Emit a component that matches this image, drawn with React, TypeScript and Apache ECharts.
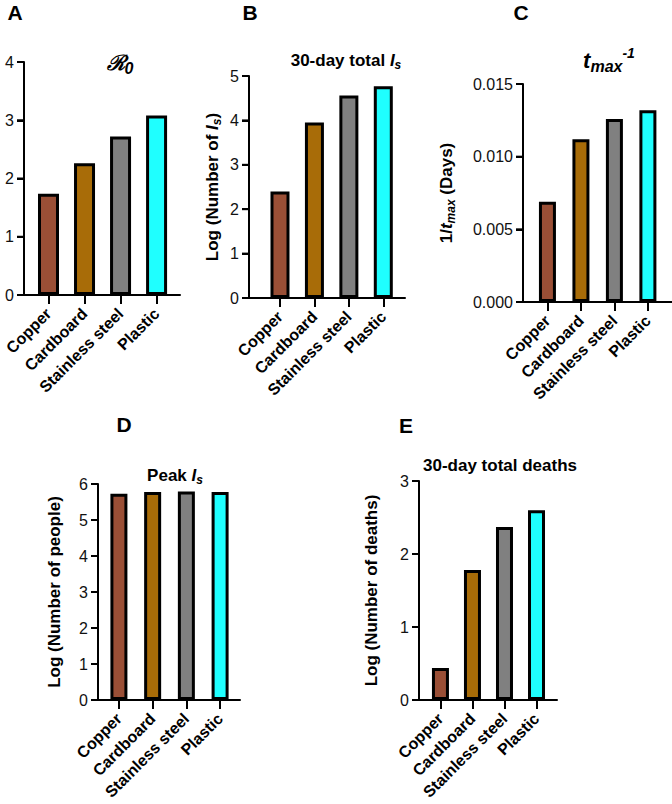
import React, { useEffect, useRef } from "react";
import * as echarts from "echarts";

const categories = ["Copper", "Cardboard", "Stainless steel", "Plastic"];
const barColors = ["#9A4F36", "#A86C08", "#808080", "#1FFFFF"];

const r0Values = [1.74, 2.26, 2.72, 3.08];
const totalIsValues = [2.4, 3.95, 4.56, 4.77];
const invTmaxValues = [0.0069, 0.0112, 0.0126, 0.0132];
const peakIsValues = [5.73, 5.78, 5.79, 5.78];
const totalDeathsValues = [0.44, 1.78, 2.37, 2.6];

const r0TickValues = [0, 1, 2, 3, 4];
const totalIsTickValues = [0, 1, 2, 3, 4, 5];
const invTmaxTickValues = [0, 0.005, 0.01, 0.015];
const peakIsTickValues = [0, 1, 2, 3, 4, 5, 6];
const totalDeathsTickValues = [0, 1, 2, 3];

const FONT = "Liberation Sans, Arial, Helvetica, sans-serif";

const richBase = {
  i: { fontStyle: "italic", fontWeight: "bold", fontSize: 17, lineHeight: 20, fontFamily: FONT, color: "#000" },
  sub: { fontStyle: "italic", fontWeight: "bold", fontSize: 12, lineHeight: 12, padding: [10, 0, 0, 0], fontFamily: FONT, color: "#000" },
};

export default function App() {
  const ref = useRef<HTMLDivElement>(null);
  useEffect(() => {
    if (!ref.current) return;
    const chart = echarts.init(ref.current, undefined, { renderer: "svg" });

    const panels = [
      { values: r0Values, ticks: r0TickValues, digits: 0, grid: [24, 62, 156, 233], xr: [-0.68, 3.65], barW: 21, name: "", nameGap: 0 },
      { values: totalIsValues, ticks: totalIsTickValues, digits: 0, grid: [249, 76, 156, 222], xr: [-0.9, 3.63], barW: 19, name: "Log (Number of {i|I}{sub|s})", nameGap: 27 },
      { values: invTmaxValues, ticks: invTmaxTickValues, digits: 3, grid: [523, 84, 149, 218], xr: [-0.73, 3.72], barW: 17, name: "1/{i|t}{sub|max} (Days)", nameGap: 67 },
      { values: peakIsValues, ticks: peakIsTickValues, digits: 0, grid: [98, 484, 142, 216], xr: [-0.62, 3.59], barW: 17, name: "Log (Number of people)", nameGap: 34 },
      { values: totalDeathsValues, ticks: totalDeathsTickValues, digits: 0, grid: [419, 481, 138, 219], xr: [-0.67, 3.64], barW: 17, name: "Log (Number of deaths)", nameGap: 38 },
    ];

    const tickIdx = categories.map((_, k) => k);

    const option: any = {
      animation: false,
      backgroundColor: "#fff",
      grid: panels.map((p) => ({ left: p.grid[0], top: p.grid[1], width: p.grid[2], height: p.grid[3], containLabel: false })),
      xAxis: panels.map((p, i) => ({
        gridIndex: i,
        type: "value",
        min: p.xr[0],
        max: p.xr[1],
        splitLine: { show: false },
        axisLine: { show: true, onZero: false, lineStyle: { color: "#000", width: 2 } },
        axisTick: { show: true, inside: false, customValues: tickIdx, length: 9, lineStyle: { color: "#000", width: 2 } },
        axisLabel: {
          customValues: tickIdx,
          rotate: 45,
          margin: 16,
          fontSize: 16,
          fontWeight: "bold",
          fontFamily: FONT,
          color: "#000",
          formatter: (v: number) => categories[Math.round(v)] ?? "",
        },
      })),
      yAxis: panels.map((p, i) => ({
        gridIndex: i,
        type: "value",
        min: p.ticks[0],
        max: p.ticks[p.ticks.length - 1],
        interval: p.ticks[1] - p.ticks[0],
        splitLine: { show: false },
        axisLine: { show: true, onZero: false, lineStyle: { color: "#000", width: 2 } },
        axisTick: { show: true, inside: false, customValues: p.ticks, length: 7, lineStyle: { color: "#000", width: 2 } },
        axisLabel: {
          customValues: p.ticks,
          margin: 10,
          fontSize: 16,
          fontFamily: FONT,
          color: "#111",
          formatter: (v: number) => v.toFixed(p.digits),
        },
        name: p.name,
        nameLocation: "middle",
        nameGap: p.nameGap,
        nameRotate: 90,
        nameTextStyle: {
          fontSize: 17,
          fontWeight: "bold",
          fontFamily: FONT,
          color: "#000",
          lineHeight: 20,
          rich: richBase,
        },
      })),
      series: [
        ...panels.map((p, i) => ({
          type: "bar",
          xAxisIndex: i,
          yAxisIndex: i,
          barWidth: p.barW,
          itemStyle: { borderColor: "#000", borderWidth: 3 },
          data: p.values.map((v, k) => ({ value: [k, v], itemStyle: { color: barColors[k] } })),
        })),
        ...panels.map((p, i) => ({
          type: "custom",
          xAxisIndex: i,
          yAxisIndex: i,
          clip: false,
          silent: true,
          z: 5,
          data: p.ticks.map((t) => [p.xr[0], t]),
          renderItem: (_params: any, api: any) => {
            const pt = api.coord([api.value(0), api.value(1)]);
            return {
              type: "line",
              shape: { x1: pt[0] - 7, y1: pt[1], x2: pt[0], y2: pt[1] },
              style: { stroke: "#000", lineWidth: 2 },
            };
          },
        })),
      ],
      graphic: [
        ...[
          ["A", 15, 12],
          ["B", 250, 12],
          ["C", 521, 12],
          ["D", 124, 424],
          ["E", 406, 425],
        ].map(([t, x, y]) => ({
          type: "text",
          x: x as number,
          y: y as number,
          style: { text: t as string, font: `bold 21px ${FONT}`, fill: "#000", align: "center", verticalAlign: "middle" },
        })),
        {
          type: "text",
          x: 120,
          y: 62,
          style: {
            text: "{r|ℛ}{sub|0}",
            align: "center",
            verticalAlign: "middle",
            rich: {
              r: { fontFamily: "DejaVu Serif", fontStyle: "italic", fontWeight: "bold", fontSize: 21, lineHeight: 24, color: "#000" },
              sub: { fontFamily: FONT, fontStyle: "italic", fontWeight: "bold", fontSize: 16, lineHeight: 14, padding: [12, 0, 0, 0], color: "#000" },
            },
          },
        },
        {
          type: "text",
          x: 346,
          y: 60,
          style: {
            text: "30-day total {i|I}{sub|s}",
            align: "center",
            verticalAlign: "middle",
            font: `bold 17px ${FONT}`,
            fill: "#000",
            lineHeight: 20,
            rich: richBase,
          },
        },
        {
          type: "text",
          x: 609,
          y: 60,
          style: {
            text: "{t|t}{sub|max}{sup|-1}",
            align: "center",
            verticalAlign: "middle",
            rich: {
              t: { fontFamily: FONT, fontStyle: "italic", fontWeight: "bold", fontSize: 22, lineHeight: 24, color: "#000" },
              sub: { fontFamily: FONT, fontStyle: "italic", fontWeight: "bold", fontSize: 16, lineHeight: 16, padding: [12, 0, 0, 0], color: "#000" },
              sup: { fontFamily: FONT, fontStyle: "italic", fontWeight: "bold", fontSize: 14, lineHeight: 14, padding: [0, 0, 14, 0], color: "#000" },
            },
          },
        },
        {
          type: "text",
          x: 175,
          y: 475,
          style: {
            text: "Peak {i|I}{sub|s}",
            align: "center",
            verticalAlign: "middle",
            font: `bold 17px ${FONT}`,
            fill: "#000",
            lineHeight: 20,
            rich: richBase,
          },
        },
        {
          type: "text",
          x: 500,
          y: 465,
          style: {
            text: "30-day total deaths",
            align: "center",
            verticalAlign: "middle",
            font: `bold 17px ${FONT}`,
            fill: "#000",
          },
        },
      ],
    };

    chart.setOption(option);
    return () => chart.dispose();
  }, []);

  return <div ref={ref} style={{ position: "absolute", left: 0, top: 0, width: 672, height: 804 }} />;
}
